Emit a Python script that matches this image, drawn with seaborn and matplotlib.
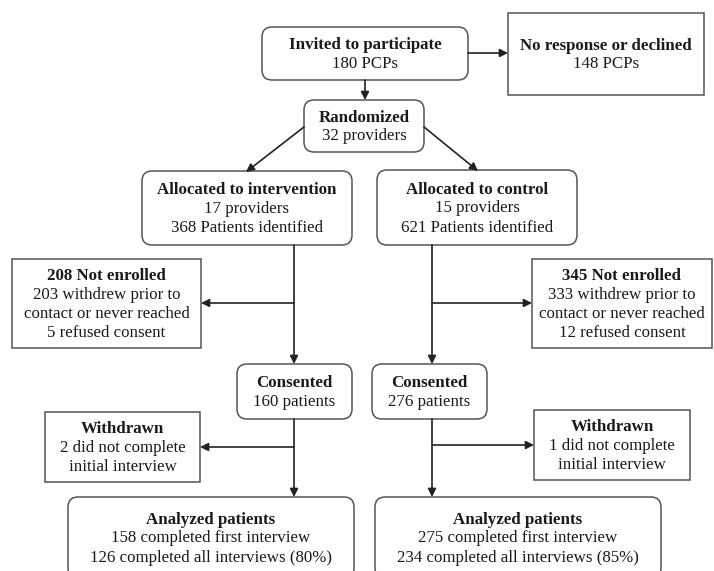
import seaborn as sns
import matplotlib.pyplot as plt
from matplotlib.patches import FancyBboxPatch, Rectangle

# =========================
# DATA (flow counts)
# =========================
invited = 180
declined = 148
randomized = 32
arm_names = ['intervention', 'control']
arm_providers = [17, 15]
arm_identified = [368, 621]
not_enrolled = [208, 345]
withdrew_prior = [203, 333]
refused = [5, 12]
consented = [160, 276]
withdrawn = [2, 1]
completed_first = [158, 275]
completed_all = [126, 234]
pct_all = [80, 85]

sns.set_style('white')
plt.rcParams['font.family'] = ['Liberation Serif', 'DejaVu Serif']

fig = plt.figure(figsize=(7.14, 5.71), dpi=100)
ax = fig.add_axes([0, 0, 1, 1])
ax.set_xlim(0, 714)
ax.set_ylim(571, 0)
ax.axis('off')

EDGE = '#555555'
TXT = '#1a1a1a'
FS = 12.2
LH = 19


def box(x0, y0, x1, y1, title, lines, rounded=True):
    if rounded:
        p = FancyBboxPatch((x0, y0), x1 - x0, y1 - y0,
                           boxstyle='round,pad=0,rounding_size=10',
                           fc='white', ec=EDGE, lw=1.1)
    else:
        p = Rectangle((x0, y0), x1 - x0, y1 - y0, fc='white', ec=EDGE, lw=1.1)
    ax.add_patch(p)
    rows = [title] + lines
    cx = (x0 + x1) / 2
    cy = (y0 + y1) / 2 + 1
    start = cy - LH * (len(rows) - 1) / 2
    for i, r in enumerate(rows):
        ax.text(cx, start + i * LH, r, ha='center', va='center',
                fontsize=FS, color=TXT,
                fontweight='bold' if i == 0 else 'normal')


def arrow(x0, y0, x1, y1):
    ax.annotate('', xy=(x1, y1), xytext=(x0, y0),
                arrowprops=dict(arrowstyle='-|>', color='#222222', lw=1.2,
                                mutation_scale=12, shrinkA=0, shrinkB=0))


# top
box(262, 27, 468, 80, 'Invited to participate', [f'{invited} PCPs'])
box(508, 13, 704, 95, 'No response or declined', [f'{declined} PCPs'], rounded=False)
arrow(468, 53, 508, 53)
arrow(365, 80, 365, 100)
box(304, 100, 424, 152, 'Randomized', [f'{randomized} providers'])
arrow(304, 127, 246, 172)
arrow(424, 127, 478, 171)

# arms
alloc = [(142, 171, 352, 245), (377, 170, 577, 245)]
ne_box = [(12, 259, 201, 348), (532, 259, 712, 348)]
cons_box = [(237, 364, 352, 419), (372, 364, 487, 419)]
wd_box = [(45, 412, 200, 482), (534, 410, 690, 480)]
an_box = [(68, 497, 354, 578), (375, 497, 661, 578)]
xs = [294, 432]
y_ne = [303, 303]
y_wd = [447, 445]

for i in range(2):
    box(*alloc[i], f'Allocated to {arm_names[i]}',
        [f'{arm_providers[i]} providers', f'{arm_identified[i]} Patients identified'])
    box(*ne_box[i], f'{not_enrolled[i]} Not enrolled',
        [f'{withdrew_prior[i]} withdrew prior to', 'contact or never reached',
         f'{refused[i]} refused consent'], rounded=False)
    box(*cons_box[i], 'Consented', [f'{consented[i]} patients'])
    box(*wd_box[i], 'Withdrawn',
        [f'{withdrawn[i]} did not complete', 'initial interview'], rounded=False)
    box(*an_box[i], 'Analyzed patients',
        [f'{completed_first[i]} completed first interview',
         f'{completed_all[i]} completed all interviews ({pct_all[i]}%)'])

    x = xs[i]
    arrow(x, 245, x, 364)
    arrow(x, 419, x, 497)
    if i == 0:
        arrow(x, y_ne[i], ne_box[i][2], y_ne[i])
        arrow(x, y_wd[i], wd_box[i][2], y_wd[i])
    else:
        arrow(x, y_ne[i], ne_box[i][0], y_ne[i])
        arrow(x, y_wd[i], wd_box[i][0], y_wd[i])

plt.savefig('out.png', dpi=100)
